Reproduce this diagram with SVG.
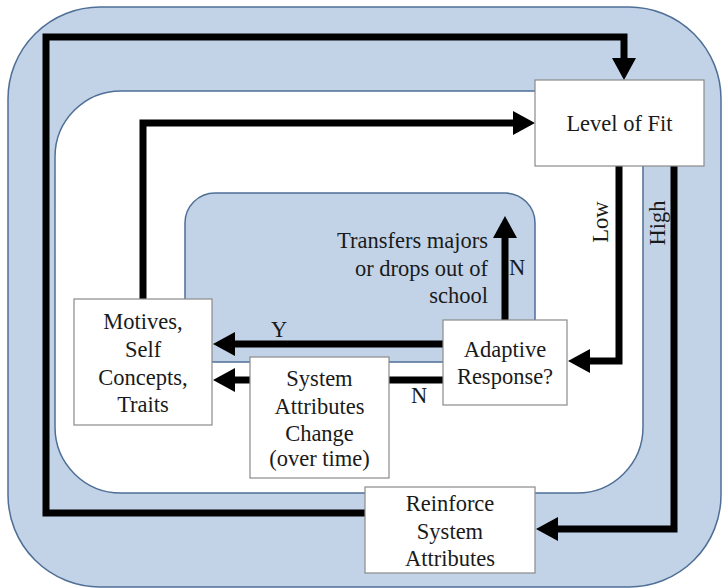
<svg xmlns="http://www.w3.org/2000/svg" width="722" height="588" viewBox="0 0 722 588" font-family="'Liberation Serif', 'Times New Roman', serif">
<defs>
<style>
.zone-blue{fill:#c2d3e8;stroke:#4f6f96;stroke-width:1.5}
.zone-white{fill:#ffffff;stroke:#4f6f96;stroke-width:1.5}
.box{fill:#ffffff;stroke:#8a8a8a;stroke-width:1.2}
.conn{fill:none;stroke:#000;stroke-width:7;stroke-linejoin:miter;marker-end:url(#ah)}
.plain{fill:none;stroke:#000;stroke-width:7;stroke-linejoin:miter}
text{font-family:'Liberation Serif','Times New Roman',serif;font-size:22.5px;fill:#1a1a1a}
.c{text-anchor:middle}
.r{text-anchor:end}
</style>
<marker id="ah" markerUnits="userSpaceOnUse" markerWidth="22" markerHeight="24" refX="1" refY="12" orient="auto">
<path d="M0,0 L22,12 L0,24 z" fill="#000"/>
</marker>
</defs>
<rect class="zone-blue" x="8" y="7" width="713" height="580" rx="92" ry="92"/>
<rect class="zone-white" x="55" y="91" width="588" height="402" rx="66" ry="66"/>
<rect class="zone-blue" x="185" y="193" width="350" height="169" rx="30" ry="30"/>

<g id="connectors">
<path class="conn" d="M365,513 H46 V37 H624 V59"/>
<path class="conn" d="M143,299 V123 H514"/>
<path class="conn" d="M619,166 V361 H589"/>
<path class="conn" d="M674,166 V529 H557"/>
<path class="conn" d="M505,320 V237"/>
<path class="conn" d="M443,344 H234"/>
<path class="plain" d="M443,380 H389"/>
<path class="conn" d="M250,380 H234"/>
</g>

<g id="labels">
<text x="488" y="248" class="r">Transfers majors</text>
<text x="488" y="276" class="r">or drops out of</text>
<text x="488" y="303" class="r">school</text>
<text x="517" y="275" class="c">N</text>
<text x="279" y="337" class="c">Y</text>
<text x="419" y="403" class="c">N</text>
<text transform="translate(608,222) rotate(-90)" class="c">Low</text>
<text transform="translate(665,223) rotate(-90)" class="c">High</text>
</g>

<g id="level-of-fit">
<rect class="box" x="535" y="80" width="169" height="86"/>
<text x="619.5" y="131" class="c">Level of Fit</text>
</g>
<g id="motives">
<rect class="box" x="74" y="299" width="138" height="126"/>
<text x="143" y="329" class="c">Motives,</text>
<text x="143" y="357" class="c">Self</text>
<text x="143" y="385" class="c">Concepts,</text>
<text x="143" y="412" class="c">Traits</text>
</g>
<g id="system-attributes-change">
<rect class="box" x="250" y="357" width="139" height="121"/>
<text x="319.5" y="386" class="c">System</text>
<text x="319.5" y="414" class="c">Attributes</text>
<text x="319.5" y="441" class="c">Change</text>
<text x="319.5" y="466" class="c">(over time)</text>
</g>
<g id="adaptive-response">
<rect class="box" x="443" y="320" width="124" height="85"/>
<text x="505" y="357" class="c">Adaptive</text>
<text x="505" y="384" class="c">Response?</text>
</g>
<g id="reinforce">
<rect class="box" x="365" y="487" width="170" height="86"/>
<text x="450" y="511" class="c">Reinforce</text>
<text x="450" y="539" class="c">System</text>
<text x="450" y="566" class="c">Attributes</text>
</g>
</svg>
